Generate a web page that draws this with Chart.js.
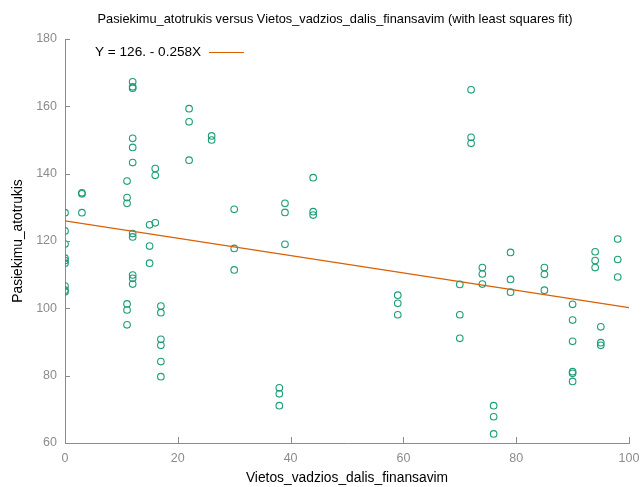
<!DOCTYPE html>
<html>
<head>
<meta charset="utf-8">
<script src="https://cdn.jsdelivr.net/npm/chart.js@4/dist/chart.umd.min.js"></script>
<style>
    html, body { margin: 0; padding: 0; background: #fff; }
    #chartContainer { display: block; }
</style>
</head>
<body>
<canvas id="chartContainer" width="643" height="487"></canvas>
<script>
// Vietos_vadzios_dalis_finansavim (x) and Pasiekimu_atotrukis (y), one entry per school
const finansavimas = [
    0, 0, 0, 0, 0, 0, 0, 0, 0,
    3, 3, 3,
    11, 11, 11, 11, 11, 11,
    12, 12, 12, 12, 12, 12, 12, 12, 12, 12, 12,
    15, 15, 15,
    16, 16, 16,
    17, 17, 17, 17, 17, 17,
    22, 22, 22,
    26, 26,
    30, 30, 30,
    38, 38, 38,
    39, 39, 39,
    44, 44, 44,
    59, 59, 59,
    70, 70, 70,
    72, 72, 72,
    74, 74, 74,
    76, 76, 76,
    79, 79, 79,
    85, 85, 85,
    90, 90, 90, 90, 90, 90,
    94, 94, 94,
    95, 95, 95,
    98, 98, 98
];
const atotrukis = [
    128.4, 123.0, 119.1, 114.9, 114.2, 113.4, 106.6, 105.4, 104.9,
    134.3, 134.0, 128.4,
    137.8, 132.9, 131.2, 101.3, 99.5, 95.1,
    167.3, 165.8, 165.4, 150.5, 147.8, 143.3, 122.2, 121.2, 109.9, 108.9, 107.2,
    124.8, 118.5, 113.4,
    141.5, 139.5, 125.4,
    100.7, 98.7, 90.8, 89.0, 84.2, 79.7,
    159.3, 155.4, 144.0,
    151.2, 150.0,
    129.4, 117.8, 111.4,
    76.4, 74.6, 71.1,
    131.2, 128.5, 119.0,
    138.8, 128.7, 127.7,
    103.9, 101.5, 98.1,
    107.1, 98.1, 91.1,
    164.9, 150.8, 149.0,
    112.1, 110.2, 107.2,
    71.1, 67.8, 62.7,
    116.6, 108.6, 104.8,
    112.1, 110.1, 105.4,
    101.2, 96.5, 90.2, 81.2, 80.7, 78.3,
    116.8, 114.2, 112.1,
    94.5, 89.8, 89.0,
    120.6, 114.5, 109.3
];

// least squares fit Y = a + bX
const fitIntercept = 126;
const fitSlope = -0.258;
const fitRange = [0, 100];

const xTicks = [0, 20, 40, 60, 80, 100];
const yTicks = [60, 80, 100, 120, 140, 160, 180];

const FONT = '"Liberation Sans", Arial, sans-serif';
const AXIS_GREY = '#8c8c8c';

const points = finansavimas.map((x, i) => ({ x: x, y: atotrukis[i] }));
const fitLine = fitRange.map(x => ({ x: x, y: fitIntercept + fitSlope * x }));
const fitLabel = 'Y = ' + fitIntercept + '. - ' + Math.abs(fitSlope) + 'X';

// title, legend entry and the inward tick marks on both axes
const extras = {
    id: 'extras',
    afterDraw(chart) {
        const ctx = chart.ctx;
        const area = chart.chartArea;
        const xs = chart.scales.x;
        const ys = chart.scales.y;
        ctx.save();

        ctx.fillStyle = '#000';
        ctx.font = '12.8px ' + FONT;
        ctx.textAlign = 'center';
        ctx.textBaseline = 'middle';
        ctx.fillText('Pasiekimu_atotrukis versus Vietos_vadzios_dalis_finansavim (with least squares fit)', 335, 19);

        ctx.font = '13.6px ' + FONT;
        ctx.textAlign = 'left';
        ctx.fillText(fitLabel, 95, 52.5);
        ctx.strokeStyle = '#d95f02';
        ctx.lineWidth = 1;
        ctx.beginPath();
        ctx.moveTo(209, 52.5);
        ctx.lineTo(244, 52.5);
        ctx.stroke();

        ctx.strokeStyle = AXIS_GREY;
        xTicks.forEach(v => {
            const px = Math.round(xs.getPixelForValue(v)) + 0.5;
            ctx.beginPath();
            ctx.moveTo(px, area.bottom);
            ctx.lineTo(px, area.bottom - 6);
            ctx.stroke();
        });
        yTicks.forEach(v => {
            const py = Math.round(ys.getPixelForValue(v)) + 0.5;
            ctx.beginPath();
            ctx.moveTo(area.left, py);
            ctx.lineTo(area.left + 5, py);
            ctx.stroke();
        });
        ctx.restore();
    }
};

const ctx = document.getElementById('chartContainer').getContext('2d');
new Chart(ctx, {
    type: 'scatter',
    data: {
        datasets: [
            {
                label: 'Pasiekimu_atotrukis',
                data: points,
                pointStyle: 'circle',
                pointRadius: 3.3,
                pointBorderWidth: 1.1,
                pointBorderColor: '#1b9e77',
                pointBackgroundColor: 'rgba(0,0,0,0)',
                order: 2
            },
            {
                label: fitLabel,
                type: 'line',
                data: fitLine,
                borderColor: '#d95f02',
                borderWidth: 1.2,
                pointRadius: 0,
                fill: false,
                order: 1
            }
        ]
    },
    options: {
        responsive: false,
        animation: false,
        layout: { padding: { top: 39, right: 14, left: 0, bottom: 0 } },
        plugins: {
            legend: { display: false },
            title: { display: false },
            tooltip: { enabled: false }
        },
        scales: {
            x: {
                type: 'linear',
                min: 0,
                max: 100,
                afterBuildTicks: s => { s.ticks = xTicks.map(v => ({ value: v })); },
                afterFit: s => { s.height = 44; s.paddingLeft = 0; s.paddingRight = 0; },
                grid: { display: false, drawTicks: false },
                border: { display: true, color: AXIS_GREY, width: 1 },
                ticks: { color: AXIS_GREY, padding: 8, font: { family: FONT, size: 12.5 } },
                title: {
                    display: true,
                    text: 'Vietos_vadzios_dalis_finansavim',
                    color: '#000',
                    font: { family: FONT, size: 13.8 },
                    padding: { top: 0, bottom: 1 }
                }
            },
            y: {
                type: 'linear',
                min: 60,
                max: 180,
                afterBuildTicks: s => { s.ticks = yTicks.map(v => ({ value: v })); },
                afterFit: s => { s.width = 65; s.paddingTop = 0; s.paddingBottom = 0; },
                grid: { display: false, drawTicks: false },
                border: { display: true, color: AXIS_GREY, width: 1 },
                ticks: { color: AXIS_GREY, padding: 8, font: { family: FONT, size: 12.5 } },
                title: {
                    display: true,
                    text: 'Pasiekimu_atotrukis',
                    color: '#000',
                    font: { family: FONT, size: 13.8 },
                    padding: { top: 10, bottom: 0 }
                }
            }
        }
    },
    plugins: [extras]
});
</script>
</body>
</html>
